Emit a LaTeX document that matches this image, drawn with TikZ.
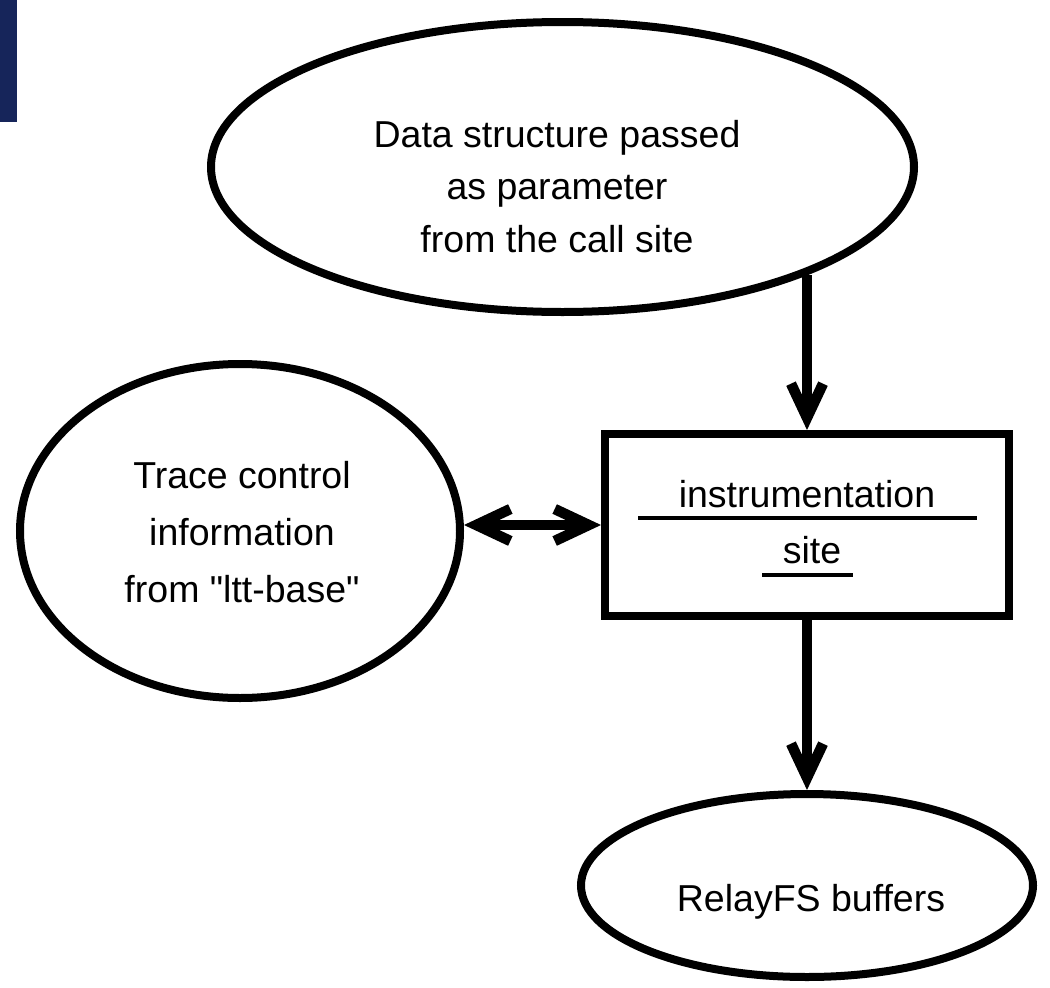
\documentclass[tikz,border=0pt]{standalone}
\usepackage{fontspec}
\setmainfont{Liberation Sans}[Ligatures=TeXOff]
\usetikzlibrary{arrows.meta,shapes.geometric}
\definecolor{navy}{HTML}{16255A}
\begin{document}
\begin{tikzpicture}[x=1pt,y=-1pt,
  shapeline/.style={draw=black,line width=8pt},
  bubble/.style={shapeline,ellipse,inner sep=0pt},
  box/.style={shapeline,rectangle,inner sep=0pt},
  txt/.style={font=\fontsize{37.5}{45}\selectfont,anchor=base,inner sep=0pt},
  barb/.tip={Straight Barb[length=34pt,width=32pt]},
  flow/.style={line width=10.5pt,-barb},
  twoway/.style={line width=10.5pt,barb-barb},
  underrule/.style={line width=4pt}]
\useasboundingbox (0,0) rectangle (1050,988);

% corner bar
\fill[navy] (0,0) rectangle (17,122);

% shapes
\node[bubble,minimum width=703pt,minimum height=290pt] (src) at (562.5,167) {};
\node[bubble,minimum width=440pt,minimum height=334pt] (ctl) at (240,531) {};
\node[box,minimum width=404pt,minimum height=182pt] (site) at (807,525) {};
\node[bubble,minimum width=452pt,minimum height=183pt] (buf) at (807,885.5) {};

% texts
\node[txt] (src1) at (557,147) {Data structure passed};
\node[txt] (src2) at (557,199.5) {as parameter};
\node[txt] (src3) at (557,252) {from the call site};
\node[txt] (ctl1) at (242,488) {Trace control};
\node[txt] (ctl2) at (242,545) {information};
\node[txt] (ctl3) at (242,602) {from "ltt-base"};
\node[txt] (site1) at (807,507) {instrumentation};
\node[txt] (site2) at (812,563) {site};
\node[txt] (buf1) at (811,911) {RelayFS buffers};

% underlines inside the box
\draw[underrule] ([shift={(-169,-7)}]site.center) -- ([shift={(170,-7)}]site.center);
\draw[underrule] ([shift={(-45,49.5)}]site.center) -- ([shift={(46,49.5)}]site.center);

% connectors
\draw[flow] (site.north |- src.-24) -- (site.north);
\draw[twoway] (site.west -| ctl.east) -- (site.west);
\draw[flow] (site.south) -- (buf.north);
\end{tikzpicture}
\end{document}
